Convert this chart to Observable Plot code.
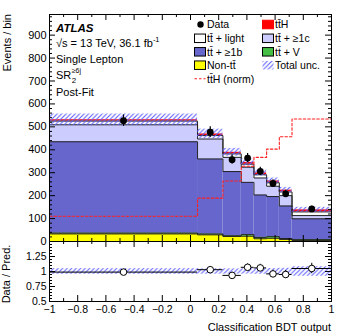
<!DOCTYPE html>
<html>
<head>
<meta charset="utf-8">
<script src="https://cdn.jsdelivr.net/npm/d3@7"></script>
<script src="https://cdn.jsdelivr.net/npm/@observablehq/plot@0.6"></script>
<style>
html,body{margin:0;padding:0;background:#fff;}
#wrap{position:relative;width:349px;height:335px;overflow:hidden;background:#fff;}
#wrap svg{position:absolute;left:0;overflow:visible;}
</style>
</head>
<body>
<div id="wrap"></div>
<script>
// ---- data ----
const binEdges = [-1, 0.05, 0.23, 0.36, 0.45, 0.54, 0.63, 0.72, 1];
const nonTT   = [33, 29, 22, 23, 12, 14, 9, 4];
const ttV     = [4, 4, 3, 7, 6, 7, 4, 4];
const tt1b    = [398, 327, 280, 228, 185, 175, 142, 91];
const tt1c    = [74, 87, 62, 66, 74, 45, 45, 14];
const ttLight = [16, 15, 15, 13, 14, 15, 16, 16];
const ttH     = [6, 7, 7, 8, 8, 8, 8, 9];
const ttHnorm = [110, 189, 264, 328, 367, 403, 457, 534];
const dataVals = [527, 477, 357, 364, 306, 253, 208, 142];
const dataErr  = [25, 23, 20, 20, 18, 16, 15, 12];
const totalUnc = [25, 21, 17, 15, 14, 13, 12, 11];
const ratioVals = [0.99, 1.03, 0.935, 1.07, 1.06, 0.96, 0.95, 1.05];
const xMajor = [-1, -0.8, -0.6, -0.4, -0.2, 0, 0.2, 0.4, 0.6, 0.8, 1];
const xMinor = [-0.9, -0.7, -0.5, -0.3, -0.1, 0.1, 0.3, 0.5, 0.7, 0.9];
const yMainLabels = [0, 100, 200, 300, 400, 500, 600, 700, 800, 900];
const yRatioLabels = [0.5, 0.75, 1, 1.25];
const yRatioMajor = [0.5, 0.75, 1, 1.25, 1.5];

// ---- layout / style ----
const FONT = '"Liberation Sans", Arial, Helvetica, sans-serif';
const W = 349, ML = 49, MR = 18, MT = 14, MAINB = 241;
const PW = W - ML - MR, PH = MAINB - MT;
const RH = 94, RMB = 34, RPH = RH - RMB;
const C = {nonTT:"#ffff00", ttV:"#45c045", tt1b:"#6666cc", tt1c:"#ccccff", ttLight:"#ffffff", ttH:"#ff0000", hatch:"#5c5cff"};
const hatchDef = id => `<defs><pattern id="${id}" patternUnits="userSpaceOnUse" width="4.5" height="4.5"><path d="M-1,1 l2,-2 M0,4.5 l4.5,-4.5 M3.5,5.5 l2,-2" stroke="${C.hatch}" stroke-width="1.1"/></pattern></defs>`;

const n = binEdges.length - 1;
const bins = d3.range(n).map(i => ({i, x1: binEdges[i], x2: binEdges[i+1], xc: (binEdges[i] + binEdges[i+1]) / 2}));

const comps = [
  {vals: nonTT, fill: C.nonTT, outline: true},
  {vals: ttV, fill: C.ttV, outline: true},
  {vals: tt1b, fill: C.tt1b, outline: true},
  {vals: tt1c, fill: C.tt1c, outline: true},
  {vals: ttLight, fill: C.ttLight, outline: true},
  {vals: ttH, fill: C.ttH, outline: false}
];
const cum = new Array(n).fill(0);
const rects = [], outlines = [];
for (const c of comps) {
  const tops = [];
  c.vals.forEach((v, i) => {
    rects.push({x1: binEdges[i], x2: binEdges[i+1], y1: cum[i], y2: cum[i] + v, fill: c.fill});
    cum[i] += v; tops.push(cum[i]);
  });
  if (c.outline) outlines.push(binEdges.map((e, i) => ({x: e, y: tops[Math.min(i, n - 1)]})));
}
const total = cum.slice();
const stepPts = vals => binEdges.map((e, i) => ({x: e, y: vals[Math.min(i, n - 1)]}));
const fmt = d3.format("~g");

function ticks(xMaj, xMin, yMaj, yMin, ph, maj, mn, ymaj, ymn) {
  const s = {stroke: "#000", strokeWidth: 1};
  return [
    Plot.tickX(xMaj, {x: d => d, insetTop: ph - maj, ...s}),
    Plot.tickX(xMaj, {x: d => d, insetBottom: ph - maj, ...s}),
    Plot.tickX(xMin, {x: d => d, insetTop: ph - mn, ...s}),
    Plot.tickX(xMin, {x: d => d, insetBottom: ph - mn, ...s}),
    Plot.tickY(yMaj, {y: d => d, insetRight: PW - ymaj, ...s}),
    Plot.tickY(yMaj, {y: d => d, insetLeft: PW - ymaj, ...s}),
    Plot.tickY(yMin, {y: d => d, insetRight: PW - ymn, ...s}),
    Plot.tickY(yMin, {y: d => d, insetLeft: PW - ymn, ...s})
  ];
}

const wrap = document.getElementById("wrap");

// ---- ratio panel ----
const yRatioMinor = d3.range(0.5, 1.5001, 0.05).map(v => +v.toFixed(2)).filter(v => !yRatioMajor.includes(v));
const ratio = Plot.plot({
  width: W, height: RH, marginLeft: ML, marginRight: MR, marginTop: 0, marginBottom: RMB,
  x: {domain: [-1, 1], axis: null},
  y: {domain: [0.5, 1.5], axis: null},
  style: {fontFamily: FONT, fontSize: "10.5px", color: "#000", background: "transparent", overflow: "visible"},
  marks: [
    Plot.rect(bins, {x1: "x1", x2: "x2", y1: d => 1 - totalUnc[d.i] / total[d.i], y2: d => 1 + totalUnc[d.i] / total[d.i], fill: "url(#hatchR)"}),
    Plot.ruleY(bins, {y: d => ratioVals[d.i], x1: "x1", x2: "x2", stroke: "#000", strokeWidth: 1}),
    Plot.ruleX(bins, {x: "xc", y1: d => ratioVals[d.i] - dataErr[d.i] / total[d.i], y2: d => ratioVals[d.i] + dataErr[d.i] / total[d.i], stroke: "#000", strokeWidth: 1}),
    Plot.dot(bins, {x: "xc", y: d => ratioVals[d.i], r: 3.3, fill: "#fff", stroke: "#000", strokeWidth: 1}),
    Plot.frame({stroke: "#000"}),
    ...ticks(xMajor, xMinor, yRatioMajor, yRatioMinor, RPH, 6, 3, 6, 3),
    Plot.axisX(xMajor, {anchor: "bottom", tickSize: 0, tickPadding: 4, tickFormat: fmt, label: null, fontSize: 10.5}),
    Plot.axisY(yRatioLabels, {anchor: "left", tickSize: 0, tickPadding: 3, tickFormat: fmt, label: null, fontSize: 10.5})
  ]
});
ratio.insertAdjacentHTML("afterbegin", hatchDef("hatchR"));
ratio.style.top = MAINB + "px";
wrap.appendChild(ratio);

// ---- main panel ----
const yMinor = d3.range(0, 990, 20).filter(v => v % 100 !== 0);
const main = Plot.plot({
  width: W, height: MAINB + 10, marginLeft: ML, marginRight: MR, marginTop: MT, marginBottom: 10,
  x: {domain: [-1, 1], axis: null},
  y: {domain: [0, 990], axis: null},
  color: {type: "identity"},
  style: {fontFamily: FONT, fontSize: "11px", color: "#000", background: "transparent", overflow: "visible"},
  marks: [
    Plot.rect(rects, {x1: "x1", x2: "x2", y1: "y1", y2: "y2", fill: "fill"}),
    ...outlines.map(pts => Plot.line(pts, {x: "x", y: "y", curve: "step-after", stroke: "#222", strokeWidth: 1})),
    Plot.rect(bins, {x1: "x1", x2: "x2", y1: d => total[d.i] - totalUnc[d.i], y2: d => total[d.i] + totalUnc[d.i], fill: "url(#hatchM)"}),
    Plot.line(stepPts(ttHnorm), {x: "x", y: "y", curve: "step-after", stroke: "#ff2020", strokeWidth: 1.1, strokeDasharray: "2.5,2"}),
    Plot.ruleX(bins, {x: "xc", y1: d => dataVals[d.i] - dataErr[d.i], y2: d => dataVals[d.i] + dataErr[d.i], stroke: "#000", strokeWidth: 1.2}),
    Plot.dot(bins, {x: "xc", y: d => dataVals[d.i], r: 3.4, fill: "#000", stroke: "none"}),
    Plot.frame({stroke: "#000"}),
    ...ticks(xMajor, xMinor, yMainLabels, yMinor, PH, 6, 3, 6, 3),
    Plot.axisY(yMainLabels, {anchor: "left", tickSize: 0, tickPadding: 3, tickFormat: fmt, label: null, fontSize: 11})
  ]
});
main.insertAdjacentHTML("afterbegin", hatchDef("hatchM"));
main.style.top = "0px";
wrap.appendChild(main);

// ---- labels and legend overlay ----
const ov = d3.create("svg").attr("width", W).attr("height", 335)
  .attr("font-family", FONT).attr("fill", "#000").style("top", "0px");
ov.html(hatchDef("hatchL"));
wrap.appendChild(ov.node());
const txt = (x, y, s, size, extra = {}) => {
  const t = ov.append("text").attr("x", x).attr("y", y).attr("font-size", size).text(s);
  for (const k in extra) t.attr(k, extra[k]);
  return t;
};
// axis titles
ov.append("text").attr("transform", "translate(10.5,14) rotate(-90)").attr("text-anchor", "end").attr("font-size", 11).text("Events / bin");
ov.append("text").attr("transform", "translate(10,274) rotate(-90)").attr("text-anchor", "middle").attr("font-size", 11).text("Data / Pred.");
txt(331, 331, "Classification BDT output", 11, {"text-anchor": "end"});

// ATLAS block
txt(56, 32, "ATLAS", 11.5, {"font-weight": "bold", "font-style": "italic"});
const t2 = txt(56, 46.5, "√s = 13 TeV, 36.1 fb", 11);
t2.append("tspan").attr("font-size", 7.5).attr("dy", -4.5).text("-1");
txt(56, 62.5, "Single Lepton", 11);
const sr = txt(56, 79, "SR", 11);
const srW = sr.node().getComputedTextLength() || 14;
txt(56 + srW + 0.5, 82.5, "2", 8);
txt(56 + srW + 0.5, 73, "≥6j", 7);
txt(56, 95.5, "Post-Fit", 11);

// legend
const tt = "tt\u0304";
const rows = [24.5, 38.3, 51.8, 65.2, 78.8];
const c1 = 194, c2 = 262, bw = 11, bh = 8.5, fs = 10.5;
const box = (x, y, fill, stroke = "#000") => ov.append("rect").attr("x", x + 0.5).attr("y", y - bh / 2).attr("width", bw).attr("height", bh).attr("fill", fill).attr("stroke", stroke).attr("stroke-width", 1);
const lab = (x, y, s) => txt(x + bw + 2, y + fs * 0.36, s, fs);
ov.append("circle").attr("cx", c1 + 6.5).attr("cy", rows[0]).attr("r", 3.2).attr("fill", "#000");
lab(c1, rows[0], "Data");
box(c1, rows[1], C.ttLight); lab(c1, rows[1], tt + " + light");
box(c1, rows[2], C.tt1b); lab(c1, rows[2], tt + " + ≥1b");
box(c1, rows[3], C.nonTT); lab(c1, rows[3], "Non-" + tt);
ov.append("line").attr("x1", c1 + 0.5).attr("x2", c1 + bw + 0.5).attr("y1", rows[4]).attr("y2", rows[4]).attr("stroke", "#ff2020").attr("stroke-width", 1.1).attr("stroke-dasharray", "2.5,2");
lab(c1, rows[4], tt + "H (norm)");
box(c2, rows[0], C.ttH, "#ff0000"); lab(c2, rows[0], tt + "H");
box(c2, rows[1], C.tt1c); lab(c2, rows[1], tt + " + ≥1c");
box(c2, rows[2], C.ttV); lab(c2, rows[2], tt + " + V");
box(c2, rows[3], "url(#hatchL)", "none"); lab(c2, rows[3], "Total unc.");
</script>
</body>
</html>
